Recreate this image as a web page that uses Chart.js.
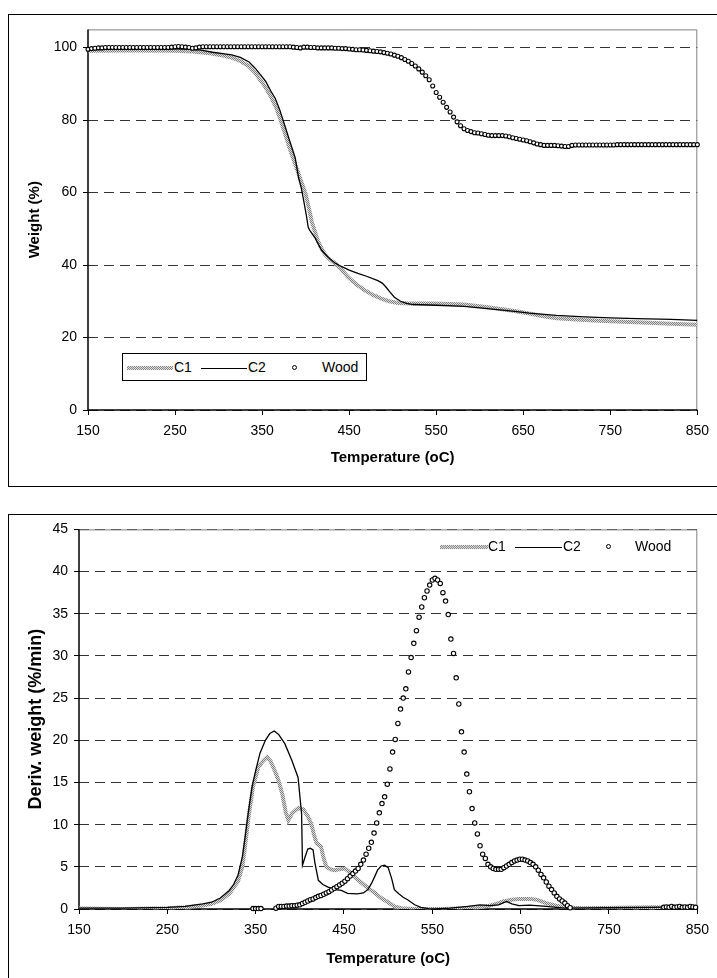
<!DOCTYPE html>
<html>
<head>
<meta charset="utf-8">
<script src="https://cdn.jsdelivr.net/npm/chart.js@4.4.1/dist/chart.umd.min.js"></script>
<style>
  body { margin: 0; width: 717px; height: 978px; overflow: hidden; background: #fff; position: relative;
         font-family: "Liberation Sans", Arial, sans-serif; }
  .box { position: absolute; border: 1.5px solid #000; box-sizing: border-box; }
  canvas { position: absolute; }
  .legend { position: absolute; font-size: 14px; color: #000; }
  .legend .item { position: absolute; top: 0; }
  .c1 { position: absolute; height: 4px; background: repeating-conic-gradient(#888 0 25%, #dcdcdc 0 50%) 0 0 / 2px 2px; }
  .c2 { position: absolute; height: 0; border-top: 1.2px solid #000; }
  .wood { position: absolute; width: 3px; height: 3px; border: 1px solid #000; border-radius: 50%; background: #fff; }
</style>
</head>
<body>
<div class="box" style="left:8px; top:14px; width:720px; height:473px"></div>
<div class="box" style="left:8px; top:514px; width:720px; height:480px"></div>
<canvas id="chart-tga" width="708" height="470" style="left:9px; top:15px"></canvas>
<canvas id="chart-dtg" width="708" height="463" style="left:9px; top:515px"></canvas>

<div class="legend" style="left:122px; top:353px; width:245px; height:28px; border:1px solid #000; background:#fff; box-sizing:border-box;">
  <div class="c1" style="left:4px; top:12px; width:46px;"></div>
  <div class="item" style="left:51px; top:5px;">C1</div>
  <div class="c2" style="left:78px; top:14px; width:46px;"></div>
  <div class="item" style="left:125px; top:5px;">C2</div>
  <div class="wood" style="left:169px; top:11px;"></div>
  <div class="item" style="left:199px; top:5px;">Wood</div>
</div>

<div class="legend" style="left:440px; top:538px; width:260px; height:20px;">
  <div class="c1" style="left:0px; top:7px; width:48px;"></div>
  <div class="item" style="left:48px; top:0px;">C1</div>
  <div class="c2" style="left:75px; top:9px; width:47px;"></div>
  <div class="item" style="left:123px; top:0px;">C2</div>
  <div class="wood" style="left:166px; top:6px;"></div>
  <div class="item" style="left:195px; top:0px;">Wood</div>
</div>

<script>
const range = (from, to, step) => {
    let out = [];
    for (let t = from; t <= to + 1e-9; t += step) out.push(t);
    return out;
};

// x ticks shared by both charts
const tempTicks = [150, 250, 350, 450, 550, 650, 750, 850];
const weightTicks = [0, 20, 40, 60, 80, 100];
const derivTicks = [0, 5, 10, 15, 20, 25, 30, 35, 40, 45];

// TGA (weight %)
const tgaTempC1 = [150, 200, 250, 270, 290, 305, 315, 325, 335, 342, 348, 354, 360, 366, 372, 378, 384, 390, 395, 400,
    404, 407, 411, 414, 418, 422, 428, 434, 441, 449, 458, 468, 477, 486, 496, 506, 520, 543, 560, 582,
    600, 620, 640, 657, 670, 688, 720, 750, 780, 820, 850];
const tgaWeightC1 = [99.1, 99.2, 99.1, 98.9, 98.4, 97.8, 97.2, 96.3, 94.8, 93.0, 91.0, 89.0, 86.5, 83.5, 79.5, 75.0, 70.5, 66.5, 63.0, 59.6,
    55.5, 52.0, 49.0, 46.7, 44.7, 43.0, 41.5, 40.4, 38.8, 36.6, 34.7, 33.0, 31.8, 30.8, 30.0, 29.5, 29.4, 29.4, 29.3, 29.1,
    28.6, 28.0, 27.3, 26.6, 26.0, 25.3, 24.8, 24.5, 24.2, 23.8, 23.5];

const tgaTempC2 = [150, 200, 250, 270, 280, 293, 305, 315, 325, 335, 342, 348, 354, 360, 365, 370, 377, 382, 388, 392,
    395, 398, 401, 403, 405, 411, 418, 426, 434, 441, 450, 460, 470, 483, 488, 492, 497, 502, 509, 516,
    523, 550, 582, 600, 620, 640, 657, 688, 720, 750, 780, 820, 850];
const tgaWeightC2 = [99.5, 99.6, 99.6, 99.5, 99.3, 98.7, 98.3, 98.0, 97.3, 96.0, 94.3, 92.5, 90.7, 88.0, 86.0, 83.0, 77.8, 74.0, 69.6, 64.0,
    61.3, 57.5, 53.5, 50.4, 49.5, 47.4, 44.2, 42.1, 40.5, 39.6, 38.6, 37.7, 36.9, 35.7, 35.0, 34.0, 32.5, 31.1, 30.0, 29.4,
    29.1, 28.9, 28.6, 28.2, 27.7, 27.2, 26.7, 26.1, 25.7, 25.4, 25.2, 25.0, 24.7];

const tgaTempWood = range(150, 850, 4);
const tgaWeightWood = [
    99.5, 99.7, 99.8, 99.9, 99.9, 100,
    100, 100, 100, 100, 100, 100, 100, 100, 100, 100, 100, 100, 100, 100, 100, 100, 100, 100,
    100.1, 100.2, 100.3, 100.2, 100.1, 100, 99.8, 99.9, 100.1,
    100.2, 100.2, 100.2, 100.2, 100.2, 100.2, 100.2, 100.2, 100.2, 100.2, 100.2, 100.2, 100.2,
    100.2, 100.2, 100.2, 100.2, 100.2, 100.2, 100.2, 100.2, 100.2, 100.2, 100.2, 100.2, 100.2,
    100.1, 100, 99.9, 100.1, 100.1, 100, 100, 99.9, 99.9, 99.9,
    99.9, 99.9, 99.8, 99.8, 99.7, 99.7, 99.6, 99.5, 99.4, 99.4,
    99.3, 99.2, 99.1, 99.0, 98.9, 98.8, 98.6, 98.4, 98.2, 97.9,
    97.6, 97.2, 96.7, 96.2, 95.6, 94.9, 94.1, 93.2, 92.2, 91.1,
    89.4, 87.6, 86.3, 84.9, 83.5, 82.2, 80.8, 79.5, 78.4, 77.6,
    77.1, 76.8, 76.5, 76.4, 76.2, 76.0, 75.8, 75.7, 75.7, 75.7,
    75.7, 75.6, 75.4, 75.1, 74.9, 74.7, 74.5, 74.3, 74.0, 73.7,
    73.4, 73.2, 73.0, 73.0, 73.0, 73.0, 72.9, 72.8, 72.7, 72.7,
    73.0,
    73.1, 73.1, 73.1, 73.1, 73.1, 73.1, 73.1, 73.1, 73.1, 73.1, 73.1, 73.1,
    73.2, 73.2, 73.2, 73.2, 73.2, 73.2, 73.2, 73.2, 73.2, 73.2, 73.2, 73.2,
    73.2, 73.2, 73.2, 73.2, 73.2, 73.2, 73.2, 73.2, 73.2, 73.2, 73.2, 73.2];

// DTG (deriv. weight %/min)
const dtgTempC1 = [150, 200, 250, 270, 290, 300, 310, 320, 330, 335, 338, 342, 347, 353, 358, 363, 367, 372, 376, 380,
    384, 387, 391, 395, 399, 404, 409, 413, 416, 419, 424, 427, 430, 435, 439, 445, 451, 456, 462, 470,
    477, 485, 492, 500, 507, 515, 530, 560, 590, 604, 615, 625, 630, 640, 649, 660, 668, 679, 690, 700,
    720, 760, 800, 850];
const dtgC1 = [0.05, 0, 0.1, 0.2, 0.4, 0.6, 1.0, 1.8, 3.3, 5.0, 7.5, 10.9, 14.5, 16.8, 17.5, 18.0, 17.5, 16.3, 15.2, 13.7,
    11.5, 10.5, 11.3, 11.7, 12.0, 11.8, 11.0, 10.1, 8.8, 7.8, 7.4, 6.0, 5.0, 4.7, 4.6, 4.7, 4.8, 4.4, 3.8, 3.1,
    2.5, 1.9, 1.3, 0.8, 0.3, 0.1, 0, 0, 0.1, 0.2, 0.4, 0.7, 0.9, 1.1, 1.2, 1.2, 1.1, 0.7, 0.4, 0.2,
    0.1, 0.15, 0.2, 0.1];

const dtgTempC2 = [150, 200, 250, 270, 290, 300, 310, 320, 325, 330, 335, 338, 342, 346, 350, 355, 361, 366, 371, 376,
    383, 391, 398, 402, 403, 406, 409, 412, 415, 417, 421, 426, 432, 440, 447, 454, 465, 472, 477, 481,
    485, 488, 492, 496, 500, 504, 507, 512, 517, 522, 530, 537, 545, 552, 570, 590, 604, 615, 625, 634,
    640, 648, 660, 679, 690, 700, 750, 800, 820, 835, 850];
const dtgC2 = [0.1, 0.1, 0.2, 0.3, 0.6, 0.8, 1.3, 2.2, 2.9, 4.0, 6.2, 8.5, 11.7, 14.5, 16.4, 18.5, 20.0, 20.8, 21.1, 20.7,
    19.6, 17.6, 15.6, 11.3, 5.2, 6.2, 7.1, 7.2, 7.0, 5.5, 3.4, 2.9, 2.6, 2.3, 2.2, 1.85, 1.8, 1.9, 2.3, 3.0,
    3.9, 4.6, 5.1, 5.2, 4.9, 3.6, 2.3, 1.8, 1.4, 1.1, 0.5, 0.2, 0.05, 0, 0.1, 0.3, 0.5, 0.4, 0.5, 0.9,
    0.6, 0.4, 0.45, 0.3, 0.2, 0.1, 0.15, 0.2, 0.25, 0.2, 0.2];

const dtgTempWood = [].concat(range(347, 356, 3), range(373, 706, 3), range(812, 848, 3));
const dtgWood = [
    0.05, 0.05, 0.05, 0.05,
    0.1, 0.3, 0.3, 0.3, 0.35, 0.35, 0.4, 0.4, 0.45, 0.5,
    0.65, 0.8, 0.95, 1.1, 1.2, 1.35, 1.5, 1.6, 1.75, 1.9,
    2.05, 2.25, 2.45, 2.65, 2.85, 3.05, 3.3, 3.6, 3.9, 4.2,
    4.5, 4.8, 5.3, 5.8, 6.5, 7.2, 7.9, 9.0, 10.2, 11.4,
    12.5, 13.3, 14.8, 16.6, 18.6, 20.1, 22.0, 23.7, 25.0, 26.1,
    28.1, 29.8, 31.5, 33.0, 34.6, 35.8, 36.9, 37.7, 38.4, 39.0,
    39.2, 39.0, 38.6, 37.5, 36.5, 34.9, 32.0, 30.3, 27.4, 24.3,
    21.0, 18.6, 16.0, 13.9, 11.9, 10.2, 8.9, 7.5, 6.5, 6.0,
    5.3, 5.0, 4.8, 4.7, 4.7, 4.7, 4.9, 5.1, 5.3, 5.5,
    5.7, 5.8, 5.9, 5.9, 5.8, 5.7, 5.5, 5.3, 5.0, 4.6,
    4.1, 3.7, 3.2, 2.7, 2.3, 1.9, 1.5, 1.2, 0.95, 0.7,
    0.4, 0.15,
    0.2, 0.25, 0.2, 0.3, 0.2, 0.25, 0.3, 0.2, 0.25, 0.2, 0.3, 0.25, 0.2];

const FONT = '"Liberation Sans", Arial, sans-serif';
Chart.defaults.font.family = FONT;
Chart.defaults.color = '#000';

const points = (xs, ys) => xs.map((x, i) => ({ x: x, y: ys[i] }));

const dotPattern = (ctx) => {
    let c = document.createElement('canvas');
    c.width = 2; c.height = 2;
    let p = c.getContext('2d');
    p.fillStyle = '#dcdcdc';
    p.fillRect(0, 0, 2, 2);
    p.fillStyle = '#808080';
    p.fillRect(0, 0, 1, 1);
    p.fillRect(1, 1, 1, 1);
    return ctx.createPattern(c, 'repeat');
};

// plot frame: gray top/right, black axes left/bottom
const framePlugin = {
    id: 'frame',
    beforeDatasetsDraw(chart) {
        const { ctx, chartArea: a } = chart;
        ctx.save();
        ctx.setLineDash([]);
        ctx.strokeStyle = '#808080';
        ctx.lineWidth = 1;
        ctx.beginPath();
        ctx.moveTo(a.left, a.top + 0.5);
        ctx.lineTo(a.right - 0.5, a.top + 0.5);
        ctx.lineTo(a.right - 0.5, a.bottom);
        ctx.stroke();
        ctx.strokeStyle = '#000';
        ctx.lineWidth = 1.5;
        ctx.beginPath();
        ctx.moveTo(a.left, a.top);
        ctx.lineTo(a.left, a.bottom);
        ctx.lineTo(a.right, a.bottom);
        ctx.stroke();
        ctx.restore();
    }
};

const createChart = (component, cfg) => {
    const ctx = component.getContext('2d');
    const pattern = dotPattern(ctx);
    new Chart(ctx, {
        type: 'scatter',
        data: {
            datasets: [{
                label: 'C1',
                data: cfg.c1,
                showLine: true,
                borderColor: pattern,
                borderWidth: 4,
                pointRadius: 0,
                tension: 0,
                order: 3
            }, {
                label: 'C2',
                data: cfg.c2,
                showLine: true,
                borderColor: '#000',
                borderWidth: 1.3,
                pointRadius: 0,
                tension: 0,
                order: 2
            }, {
                label: 'Wood',
                data: cfg.wood,
                showLine: false,
                pointStyle: 'circle',
                pointRadius: cfg.woodRadius,
                pointBorderWidth: 1.1,
                pointBorderColor: '#000',
                pointBackgroundColor: '#fff',
                clip: 6,
                order: 1
            }]
        },
        options: {
            responsive: false,
            animation: false,
            layout: { padding: { top: cfg.padTop, right: cfg.padRight, left: 0, bottom: 0 } },
            plugins: { legend: { display: false }, tooltip: { enabled: false } },
            scales: {
                x: {
                    type: 'linear',
                    min: 150,
                    max: 850,
                    afterBuildTicks: (s) => { s.ticks = tempTicks.map(v => ({ value: v })); },
                    afterFit: (s) => { s.height = cfg.xHeight; },
                    grid: { drawOnChartArea: false, tickLength: 5, color: '#000' },
                    border: { display: false },
                    ticks: { font: { size: 14 }, padding: 8, autoSkip: false, maxRotation: 0 },
                    title: {
                        display: true,
                        text: 'Temperature (oC)',
                        font: { size: 15, weight: 'bold' },
                        padding: { top: 0, bottom: cfg.xTitlePad }
                    }
                },
                y: {
                    min: 0,
                    max: cfg.yMax,
                    afterBuildTicks: (s) => { s.ticks = cfg.yTicks.map(v => ({ value: v })); },
                    afterFit: (s) => { s.width = cfg.yWidth; },
                    grid: { color: '#333', tickLength: 5, tickColor: '#000', tickBorderDash: [] },
                    border: { display: false, dash: [10, 6] },
                    ticks: { font: { size: 14 }, padding: 6 },
                    title: {
                        display: true,
                        text: cfg.yTitle,
                        font: { size: cfg.yTitleSize, weight: 'bold' },
                        padding: { top: cfg.yTitlePad, bottom: 0 }
                    }
                }
            }
        },
        plugins: [framePlugin]
    });
};

(() => {
    createChart(document.getElementById('chart-tga'), {
        c1: points(tgaTempC1, tgaWeightC1),
        c2: points(tgaTempC2, tgaWeightC2),
        wood: points(tgaTempWood, tgaWeightWood),
        woodRadius: 2,
        yMax: 105,
        yTicks: weightTicks,
        yTitle: 'Weight (%)',
        yTitleSize: 15,
        yTitlePad: 17,
        yWidth: 79,
        xHeight: 75,
        xTitlePad: 18,
        padTop: 12,
        padRight: 15
    });

    createChart(document.getElementById('chart-dtg'), {
        c1: points(dtgTempC1, dtgC1),
        c2: points(dtgTempC2, dtgC2),
        wood: points(dtgTempWood, dtgWood),
        woodRadius: 2.2,
        yMax: 45,
        yTicks: derivTicks,
        yTitle: 'Deriv. weight (%/min)',
        yTitleSize: 18,
        yTitlePad: 16,
        yWidth: 70,
        xHeight: 69,
        xTitlePad: 10,
        padTop: 13,
        padRight: 16
    });
})();
</script>
</body>
</html>
